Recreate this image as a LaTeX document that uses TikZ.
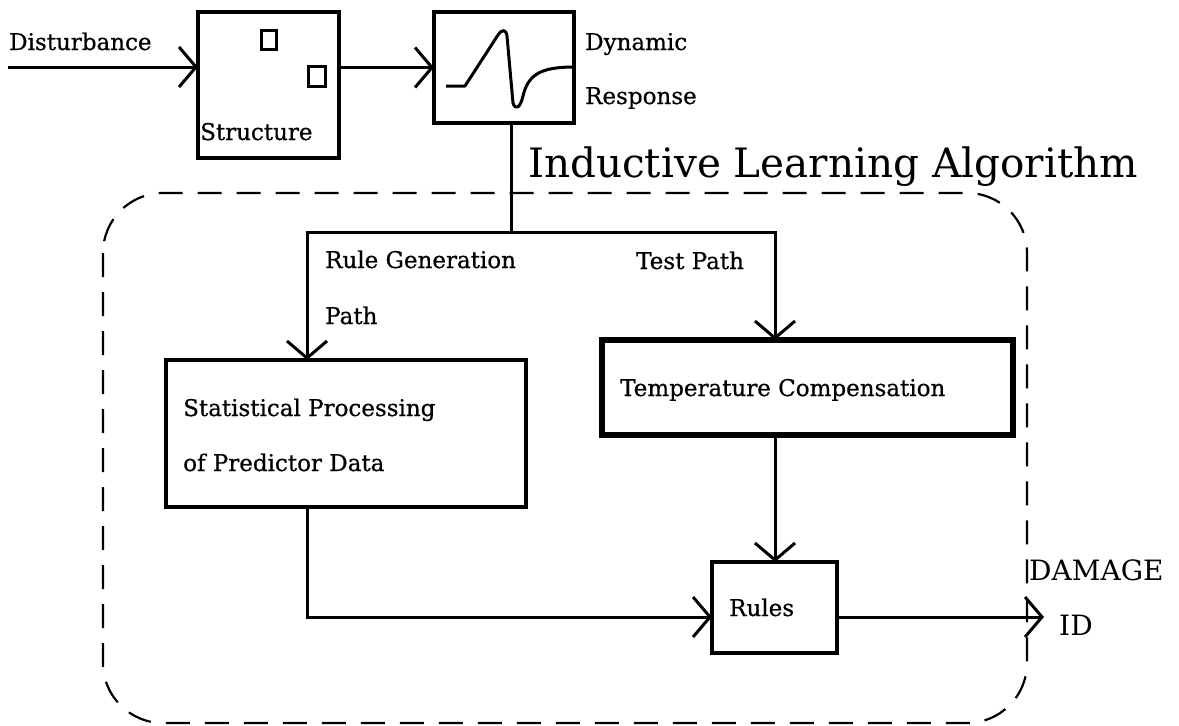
\documentclass[tikz,border=0pt]{standalone}
\usepackage{fontspec}
\setmainfont{DejaVu Serif}
\newfontfamily\lblfont{DejaVu Serif}[FakeBold=0.6]
\usetikzlibrary{arrows.meta}
\tikzset{
  blk/.style={draw, line width=3.2pt, inner sep=0pt, outer sep=0pt},
  thickblk/.style={draw, line width=6pt, inner sep=0pt, outer sep=0pt},
  conn/.style={line width=3pt},
  arr/.style={conn, -{Straight Barb[length=17pt,width=40pt]}},
  lbl/.style={anchor=base west, inner sep=0pt, font=\lblfont\fontsize{23}{26}\selectfont},
  title/.style={anchor=base west, inner sep=0pt, font=\fontsize{40.5}{46}\selectfont},
  outlbl/.style={anchor=base west, inner sep=0pt, font=\fontsize{28}{32}\selectfont},
  frame/.style={line width=2.2pt, dash pattern=on 24pt off 15pt, rounded corners=60pt}
}
\begin{document}
\begin{tikzpicture}[x=1pt,y=-1pt]
\useasboundingbox (0,0) rectangle (1179,726);
% dashed frame
\draw[frame] (103,193) rectangle (1027,723);
% boxes
\node[blk, minimum width=141pt, minimum height=146pt] (struct) at (268.5,85) {};
\node[blk, minimum width=140pt, minimum height=111pt] (resp) at (504,67.5) {};
\node[blk, minimum width=360pt, minimum height=147pt] (stat) at (346,433.5) {};
\node[thickblk, minimum width=411pt, minimum height=95pt] (temp) at (807.5,387.5) {};
\node[blk, minimum width=125pt, minimum height=91pt] (rules) at (774.5,607.5) {};
% small squares in structure
\draw[line width=3pt] (261,30) rectangle (276,49);
\draw[line width=3pt] (308,66) rectangle (325,86);
% waveform
\draw[line width=3pt, line join=round] (446,86) -- (465,86) -- (498,35) .. controls (502,29) and (506,29) .. (507,36) -- (513,103) .. controls (515,110) and (520,109) .. (523,96) .. controls (528,75) and (540,67) .. (574,67);
% coordinates
\coordinate (din) at (8,67);
\coordinate (split) at (511,232);
\coordinate (rg) at (307,232);
\coordinate (tp) at (775,232);
\coordinate (rin) at (307,617);
\coordinate (out) at (1044,617);
% connectors
\draw[arr] (din) -- (din -| struct.west);
\draw[arr] (resp.west -| struct.east) -- (resp.west);
\draw[conn] (split |- resp.south) -- (split);
\draw[arr] (split) -- (rg) -- (rg |- stat.north);
\draw[arr] (split) -- (tp) -- (tp |- temp.north);
\draw[arr] (tp |- temp.south) -- (tp |- rules.north);
\draw[arr] (rg |- stat.south) -- (rin) -- (rin -| rules.west);
\draw[arr] (rin -| rules.east) -- (out);
% labels
\node[lbl] (tdist) at (9,50) {Disturbance};
\node[lbl] (tstruct) at (200,140) {Structure};
\node[lbl] (tdyn) at (585,50) {Dynamic};
\node[lbl] (tresp) at (585,104) {Response};
\node[title] (ttitle) at (528,177) {Inductive Learning Algorithm};
\node[lbl] (trg1) at (325,268) {Rule Generation};
\node[lbl] (trg2) at (325,324) {Path};
\node[lbl] (ttp) at (636,269) {Test Path};
\node[lbl] (tstat1) at (183,416) {Statistical Processing};
\node[lbl] (tstat2) at (183,471) {of Predictor Data};
\node[lbl] (ttemp) at (620,396) {Temperature Compensation};
\node[lbl] (trules) at (729,616) {Rules};
\node[outlbl] (tdam) at (1029,580) {DAMAGE};
\node[outlbl] (tid) at (1059,635) {ID};
\end{tikzpicture}
\end{document}
